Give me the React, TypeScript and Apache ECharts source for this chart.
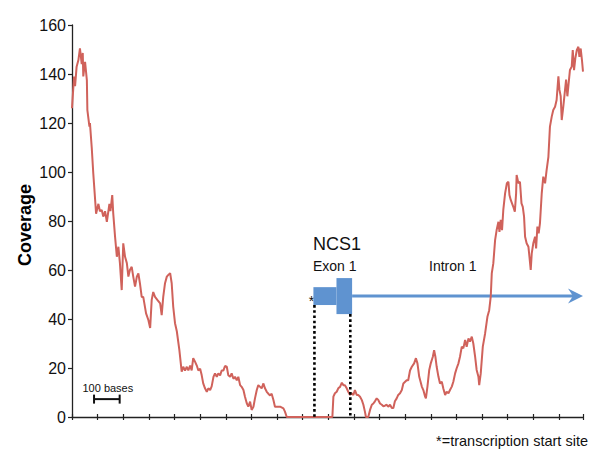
import React, { useEffect, useRef } from 'react';
import * as echarts from 'echarts';

// Positions along the region (bases, ticks every 100 bases)
const basePos = [
  -86, -78, -74, -68, -61, -55, -48, -44, -42, -35, -28, -26, -18, -16, -9, -3,
  0, 8, 17, 23, 30, 36, 43, 50, 60, 64, 71, 75, 82, 89, 95, 101, 108, 114, 121, 128,
  134, 140, 147, 153, 160, 167, 173, 179, 186, 192, 203, 212, 219, 225, 231, 238, 247,
  258, 264, 270, 277, 284, 290, 297, 303, 309, 316, 323, 333, 342, 348, 355, 362, 368,
  375, 381, 387, 394, 401, 407, 414, 420, 426, 433, 440, 446, 453, 459, 466, 472, 479,
  485, 492, 498, 505, 511, 518, 524, 531, 537, 544, 550, 557, 563, 570, 576, 583, 589,
  596, 602, 609, 615, 622, 628, 635, 641, 648, 654, 661, 667, 674, 680, 687, 693, 700,
  706, 726, 739, 745, 752, 930, 934, 940, 947, 953, 960, 967, 973, 979, 986, 992, 999,
  1005, 1012, 1018, 1025, 1031, 1038, 1045, 1051, 1057, 1061, 1070, 1077, 1084, 1090,
  1096, 1103, 1109, 1116, 1123, 1129, 1135, 1142, 1148, 1155, 1162, 1168, 1174, 1181,
  1187, 1194, 1201, 1207, 1214, 1220, 1226, 1233, 1240, 1249, 1256, 1262, 1269, 1279,
  1285, 1292, 1295, 1301, 1308, 1314, 1322, 1327, 1332, 1337, 1344, 1350, 1357, 1363,
  1370, 1376, 1383, 1389, 1396, 1402, 1409, 1415, 1422, 1428, 1435, 1441, 1448, 1454,
  1461, 1467, 1474, 1480, 1487, 1493, 1500, 1503, 1509, 1517, 1526, 1535, 1542, 1548,
  1552, 1558, 1565, 1571, 1578, 1582, 1587, 1592, 1597, 1604, 1611, 1617, 1621, 1626,
  1631, 1636, 1642, 1647, 1649, 1656, 1662, 1668, 1673, 1678, 1682, 1688, 1695, 1699,
  1704, 1708, 1714, 1721, 1725, 1730, 1735, 1740, 1747, 1753, 1760, 1766, 1773, 1779,
  1786, 1792, 1799, 1805, 1812, 1816, 1821, 1825, 1831, 1838, 1842, 1847, 1852, 1857,
  1864, 1868, 1873, 1878, 1884, 1890, 1894, 1899, 1904, 1908,
];

// Read coverage at each position
const coverage = [
  126, 139, 135, 143, 145.7, 150.5, 144, 148.6, 139, 145, 137.5, 125.3, 118.5, 120, 110, 99.5,
  95, 83, 87, 84, 84.5, 81.8, 84, 79.7, 87, 84, 90.6, 83, 73.6, 65.4, 69.5, 62.8, 51.8, 70.9, 65.4, 62.8,
  57.3, 60, 61.3, 57.3, 53.2, 57.3, 58.6, 54.6, 49, 49, 42.3, 39.6, 36.3, 47.8, 51, 49, 47.8,
  46.4, 41.6, 49, 54.6, 57.3, 58, 58.7, 54.6, 45, 38.3, 35, 27.3, 18.5, 20.5, 19, 20.5, 19,
  21, 19, 24, 22.6, 21, 19, 19.7, 17.1, 13.7, 11.7, 10.3, 11.7, 11, 12.5, 16.4, 17.8, 16.4,
  17.8, 17, 19, 19, 20.8, 20.5, 17, 16.4, 17.8, 15.6, 16.4, 15, 16.4, 13, 12.3, 11, 8.3,
  5.6, 4.2, 6.3, 2.9, 4.2, 7.6, 11, 13, 12.3, 11.7, 13.7, 11.7, 10.3, 9.5, 8.8, 9.5, 6.9,
  4.2, 4.2, 3.5, 2.2, 0, 0, 8.3, 9.7, 10.3, 11.7, 12.3, 14, 13, 13, 11.7, 10.3, 9,
  9.7, 9, 11, 9, 9, 8.3, 6.9, 5, 2.2, 0, 0, 2.9, 5, 5.5,
  6.4, 7.6, 7, 5.5, 5, 4.4, 4.6, 5, 4.2, 5, 3.7, 3.7, 6.4, 7.6,
  9, 9.7, 11, 13.7, 14.4, 15, 15, 19, 20.5, 21.9, 24, 21.9, 16.4, 12.4,
  11, 8.3, 7.6, 12.4, 19.2, 21.9, 24.6, 27.3, 24.6, 20.5, 16.4, 13.7, 14.4, 11.6,
  9, 10.3, 9.7, 11, 12.4, 14.4, 17.8, 19.9, 21.9, 24.6, 28.7, 28, 31.4, 28.7,
  32.1, 30.8, 32.8, 30, 24.6, 19.2, 16.4, 13, 17.8, 28.7, 34.1, 40.9, 43.6, 49.1,
  58.6, 62.7, 72.2, 76.3, 79.7, 75.6, 80.5, 76.3, 84.5, 91.3, 95.4, 96, 90.6, 88.6,
  87.2, 85.8, 83.8, 91.3, 98.8, 95.4, 96, 87.2, 85.8, 81.8, 73.6, 70.9, 69.5, 65.4,
  60, 66.8, 70.9, 73.6, 68.8, 77.7, 75, 79, 91.3, 98.1, 95.4, 100.8, 106.2, 118.5,
  122.6, 125.3, 126.6, 129.4, 139, 133.6, 130.9, 121.2, 126.6, 133.6, 137.7, 130.9, 136.3, 141.6,
  143, 149.8, 141.6, 146.4, 149.8, 151.1, 147, 150.4, 145.6, 141,
];

// Gene model (bases / coverage-axis levels)
const utrBox = [856, 946, 45.7, 53];
const cdsBox = [946, 1007, 42, 56.7];
const intronArrow = [1007, 1908, 49.4];
const guideLines = [[860, 45.7], [1000, 42]];
const scaleBar = [0, 100, 7.3];

const RED = '#d0625b';
const BLUE = '#5f93d0';
const FONT = "'Liberation Sans', Arial, Helvetica, sans-serif";

export default function App() {
  const ref = useRef<HTMLDivElement>(null);

  useEffect(() => {
    if (!ref.current) return;
    const chart = echarts.init(ref.current, undefined, { renderer: 'svg' });

    const xCommon = {
      type: 'value',
      min: -86,
      max: 1908,
      interval: 100,
      position: 'bottom',
      splitLine: { show: false },
      axisLabel: { show: false },
    };

    const option: any = {
      animation: false,
      backgroundColor: '#fff',
      grid: { left: 72, right: 17, top: 25, bottom: 39, containLabel: false, outerBoundsMode: 'none' },
      xAxis: [
        {
          ...xCommon,
          axisLine: { show: true, onZero: false, lineStyle: { color: '#222', width: 1.3 } },
          axisTick: { show: true, inside: false, length: 3, lineStyle: { color: '#222', width: 1.2 } },
        },
        {
          ...xCommon,
          axisLine: { show: false, onZero: false },
          axisTick: { show: true, inside: true, length: 3, lineStyle: { color: '#222', width: 1.2 } },
        },
      ],
      yAxis: {
        type: 'value',
        min: 0,
        max: 160,
        interval: 20,
        splitLine: { show: false },
        axisLine: { show: true, onZero: false, lineStyle: { color: '#222', width: 1.3 } },
        axisTick: { show: true, inside: false, length: 4, lineStyle: { color: '#222', width: 1.2 } },
        axisLabel: { fontSize: 16, color: '#111', margin: 6, fontFamily: FONT },
      },
      graphic: [
        {
          type: 'text', x: 24.5, y: 225, rotation: Math.PI / 2,
          style: { text: 'Coverage', font: `bold 18px ${FONT}`, fill: '#000', textAlign: 'center', textVerticalAlign: 'middle' },
        },
        {
          type: 'text', x: 313, y: 244,
          style: { text: 'NCS1', font: `18px ${FONT}`, fill: '#111', textAlign: 'left', textVerticalAlign: 'middle' },
        },
        {
          type: 'text', x: 313, y: 266,
          style: { text: 'Exon 1', font: `14px ${FONT}`, fill: '#111', textAlign: 'left', textVerticalAlign: 'middle' },
        },
        {
          type: 'text', x: 429, y: 266,
          style: { text: 'Intron 1', font: `14px ${FONT}`, fill: '#111', textAlign: 'left', textVerticalAlign: 'middle' },
        },
        {
          type: 'text', x: 311.5, y: 301,
          style: { text: '*', font: `14px ${FONT}`, fill: '#111', textAlign: 'center', textVerticalAlign: 'middle' },
        },
        {
          type: 'text', x: 588, y: 441,
          style: { text: '*=transcription start site', font: `14.5px ${FONT}`, fill: '#111', textAlign: 'right', textVerticalAlign: 'middle' },
        },
      ],
      series: [
        {
          type: 'custom',
          name: 'exon',
          xAxisIndex: 0,
          clip: false,
          z: 2,
          data: [utrBox, cdsBox],
          encode: { x: [0, 1], y: [2, 3] },
          renderItem: (params: any, api: any) => {
            const p1 = api.coord([api.value(0), api.value(3)]);
            const p2 = api.coord([api.value(1), api.value(2)]);
            return {
              type: 'rect',
              shape: { x: p1[0], y: p1[1], width: p2[0] - p1[0], height: p2[1] - p1[1] },
              style: { fill: BLUE },
            };
          },
        },
        {
          type: 'custom',
          name: 'intron',
          xAxisIndex: 0,
          clip: false,
          z: 2,
          data: [intronArrow],
          encode: { x: [0, 1], y: 2 },
          renderItem: (params: any, api: any) => {
            const a = api.coord([api.value(0), api.value(2)]);
            const t = api.coord([api.value(1), api.value(2)]);
            const tx = t[0];
            const ty = t[1];
            return {
              type: 'group',
              children: [
                {
                  type: 'line',
                  shape: { x1: a[0], y1: a[1], x2: tx - 9, y2: ty },
                  style: { stroke: BLUE, lineWidth: 3 },
                },
                {
                  type: 'polygon',
                  shape: { points: [[tx, ty], [tx - 15, ty - 7.5], [tx - 10, ty], [tx - 15, ty + 7.5]] },
                  style: { fill: BLUE },
                },
              ],
            };
          },
        },
        {
          type: 'custom',
          name: 'scale',
          xAxisIndex: 0,
          clip: false,
          z: 2,
          data: [scaleBar],
          encode: { x: [0, 1], y: 2 },
          renderItem: (params: any, api: any) => {
            const a = api.coord([api.value(0), api.value(2)]);
            const b = api.coord([api.value(1), api.value(2)]);
            const st = { stroke: '#111', lineWidth: 2 };
            return {
              type: 'group',
              children: [
                { type: 'line', shape: { x1: a[0], y1: a[1], x2: b[0], y2: b[1] }, style: st },
                { type: 'line', shape: { x1: a[0], y1: a[1] - 4.5, x2: a[0], y2: a[1] + 4.5 }, style: st },
                { type: 'line', shape: { x1: b[0], y1: b[1] - 4.5, x2: b[0], y2: b[1] + 4.5 }, style: st },
                {
                  type: 'text',
                  x: (a[0] + b[0]) / 2 + 1,
                  y: a[1] - 11,
                  style: { text: '100 bases', font: `11px ${FONT}`, fill: '#111', align: 'center', verticalAlign: 'middle' },
                },
              ],
            };
          },
        },
        {
          type: 'line',
          name: 'coverage',
          xAxisIndex: 0,
          data: basePos.map((b, i) => [b, coverage[i]]),
          showSymbol: false,
          symbol: 'none',
          lineStyle: { color: RED, width: 2 },
          z: 3,
        },
        {
          type: 'custom',
          name: 'guides',
          xAxisIndex: 0,
          clip: false,
          z: 4,
          data: guideLines,
          encode: { x: 0, y: 1 },
          renderItem: (params: any, api: any) => {
            const top = api.coord([api.value(0), api.value(1)]);
            const bot = api.coord([api.value(0), 0]);
            return {
              type: 'line',
              shape: { x1: top[0], y1: top[1], x2: bot[0], y2: bot[1] },
              style: { stroke: '#000', lineWidth: 2.6, lineDash: [2.6, 2.6] },
            };
          },
        },
      ],
    };

    chart.setOption(option);
    return () => chart.dispose();
  }, []);

  return (
    <div
      ref={ref}
      style={{ position: 'absolute', left: 0, top: 0, width: 600, height: 456, background: '#fff' }}
    />
  );
}
